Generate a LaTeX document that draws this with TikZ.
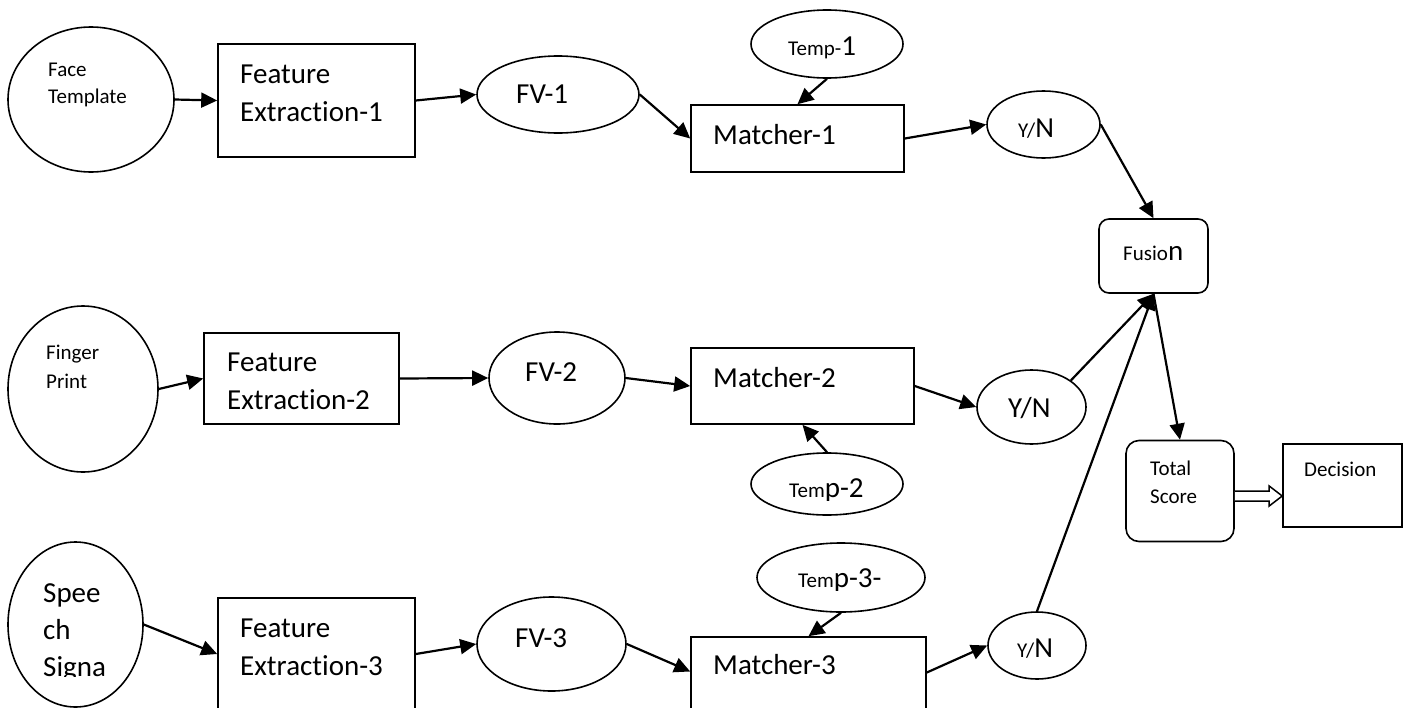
\documentclass[tikz,border=0pt]{standalone}
\usepackage{fontspec}
\setmainfont{Carlito}[Ligatures=NoCommon]
\usetikzlibrary{arrows.meta,shapes.geometric,calc}
\newcommand\fntB{\fontsize{29}{37}\selectfont}
\newcommand\fntS{\fontsize{21}{27}\selectfont}
\begin{document}
\begin{tikzpicture}[x=1pt,y=-1pt,
  ell/.style={draw, ellipse, line width=1.6pt, inner sep=0pt},
  box/.style={draw, rectangle, line width=1.6pt, inner sep=0pt},
  rbox/.style={box, rounded corners=11pt},
  arr/.style={line width=2.2pt, -{Triangle[length=16pt,width=15pt]}},
  lbl/.style={anchor=base west, inner sep=0pt, font=\fntB},
  slbl/.style={anchor=base west, inner sep=0pt, font=\fntS}]
\clip (0,0) rectangle (1408,707);
\fill[white] (0,0) rectangle (1408,707);

% ---- shapes ----
\node[ell, minimum width=166pt, minimum height=145pt] (face) at (91,99.5) {};
\node[box, minimum width=197pt, minimum height=113pt] (fe1) at (316.5,100.5) {};
\node[ell, minimum width=162pt, minimum height=77pt] (fv1) at (558,94.5) {};
\node[ell, minimum width=152pt, minimum height=68pt] (temp1) at (827,44) {};
\node[box, minimum width=213pt, minimum height=67pt] (m1) at (797.5,138.5) {};
\node[ell, minimum width=113pt, minimum height=67pt] (yn1) at (1043.5,124.5) {};
\node[rbox, rounded corners=10pt, minimum width=109pt, minimum height=74pt] (fus) at (1153.5,256) {};

\node[ell, minimum width=150pt, minimum height=166pt] (fp) at (83,389) {};
\node[box, minimum width=195pt, minimum height=91pt] (fe2) at (301.5,378.5) {};
\node[ell, minimum width=136pt, minimum height=92pt] (fv2) at (557,378) {};
\node[box, minimum width=223pt, minimum height=76pt] (m2) at (802.5,386) {};
\node[ell, minimum width=152pt, minimum height=62pt] (temp2) at (827,484) {};
\node[ell, minimum width=109pt, minimum height=74pt] (yn2) at (1031.5,407) {};

\node[ell, minimum width=135pt, minimum height=165pt] (sp) at (75.5,624.5) {};
\node[box, minimum width=197pt, minimum height=112pt] (fe3) at (316.5,654) {};
\node[ell, minimum width=149pt, minimum height=94pt] (fv3) at (551.5,644) {};
\node[box, minimum width=235pt, minimum height=75pt] (m3) at (808.5,674.5) {};
\node[ell, minimum width=168pt, minimum height=69pt] (temp3) at (841,577.5) {};
\node[ell, minimum width=98pt, minimum height=67pt] (yn3) at (1037,645.5) {};

\node[rbox, rounded corners=13pt, minimum width=108pt, minimum height=101pt] (ts) at (1180,491) {};
\node[box, minimum width=119pt, minimum height=83pt] (dec) at (1342.5,485.5) {};

% ---- labels ----
\node[slbl] (tface1) at (48,76) {Face};
\node[slbl] (tface2) at (48,103) {Template};
\node[lbl] (tfe1a) at (240,83) {Feature};
\node[lbl] (tfe1b) at (240,121) {Extraction-1};
\node[lbl] (tfv1) at (516,103) {FV-1};
\node[lbl] (ttemp1) at (788,55) {{\fntS Temp-}1};
\node[lbl] (tm1) at (713,144) {Matcher-1};
\node[lbl] (tyn1) at (1018,137) {{\fntS Y/}N};
\node[lbl] (tfus) at (1123,260) {{\fntS Fusio}n};

\node[slbl] (tfp1) at (46,359) {Finger};
\node[slbl] (tfp2) at (46,388) {Print};
\node[lbl] (tfe2a) at (227,371) {Feature};
\node[lbl] (tfe2b) at (227,409) {Extraction-2};
\node[lbl] (tfv2) at (525,381) {FV-2};
\node[lbl] (tm2) at (713,387) {Matcher-2};
\begin{scope}
\clip (700,440) rectangle (950,500);
\node[lbl] (ttemp2) at (789,497) {{\fntS Tem}p-2};
\end{scope}
\node[lbl] (tyn2) at (1008,417) {Y/N};

\node[lbl] (tsp1) at (43,602) {Spee};
\node[lbl] (tsp2) at (43,639) {ch};
\begin{scope}
\clip (0,640) rectangle (150,676);
\node[lbl] (tsp3) at (43,676) {Signa};
\end{scope}
\node[lbl] (tfe3a) at (240,637) {Feature};
\node[lbl] (tfe3b) at (240,675) {Extraction-3};
\node[lbl] (tfv3) at (515,647) {FV-3};
\node[lbl] (tm3) at (713,674) {Matcher-3};
\begin{scope}
\clip (740,540) rectangle (950,590);
\node[lbl] (ttemp3) at (798,587) {{\fntS Tem}p-3-};
\end{scope}
\node[lbl] (tyn3) at (1017,657) {{\fntS Y/}N};

\node[slbl] (tts1) at (1150,475) {Total};
\node[slbl] (tts2) at (1150,503) {Score};
\node[slbl] (tdec) at (1304,476) {Decision};

% ---- connectors ----
\draw[arr] (face.east) -- (fe1.west);
\draw[arr] (fe1.east) -- (fv1.west);
\draw[arr] (fv1.east) -- (m1.west);
\draw[arr] (temp1.south) -- (m1.north);
\draw[arr] (m1.east) -- (yn1.west);
\draw[arr] (yn1.east) -- (fus.north);

\draw[arr] (fp.east) -- (fe2.west);
\draw[arr] (fe2.east) -- (fv2.west);
\draw[arr] (fv2.east) -- (m2.west);
\draw[arr] (temp2.north) -- (m2.south);
\draw[arr] (m2.east) -- (yn2.west);
\draw[arr] (yn2.34) -- (fus.south);

\draw[arr] (sp.east) -- (fe3.west);
\draw[arr] (fe3.east) -- (fv3.west);
\draw[arr] (fv3.east) -- ([yshift=3pt]m3.west);
\draw[arr] (temp3.south) -- (m3.north);
\draw[arr] ([yshift=2pt]m3.east) -- (yn3.west);
\draw[arr] (yn3.north) -- (fus.south);

\draw[arr] (fus.south) -- (ts.north);

\coordinate (ha) at ([yshift=-5pt]ts.east);
\coordinate (hb) at (dec.west |- ha);
\draw[line width=1.5pt, fill=white, line join=miter]
  ($(ha)+(0,-5)$) -- ($(hb)+(-13,-5)$) -- ($(hb)+(-13,-10)$) -- (hb)
  -- ($(hb)+(-13,10)$) -- ($(hb)+(-13,5)$) -- ($(ha)+(0,5)$);
\end{tikzpicture}
\end{document}
